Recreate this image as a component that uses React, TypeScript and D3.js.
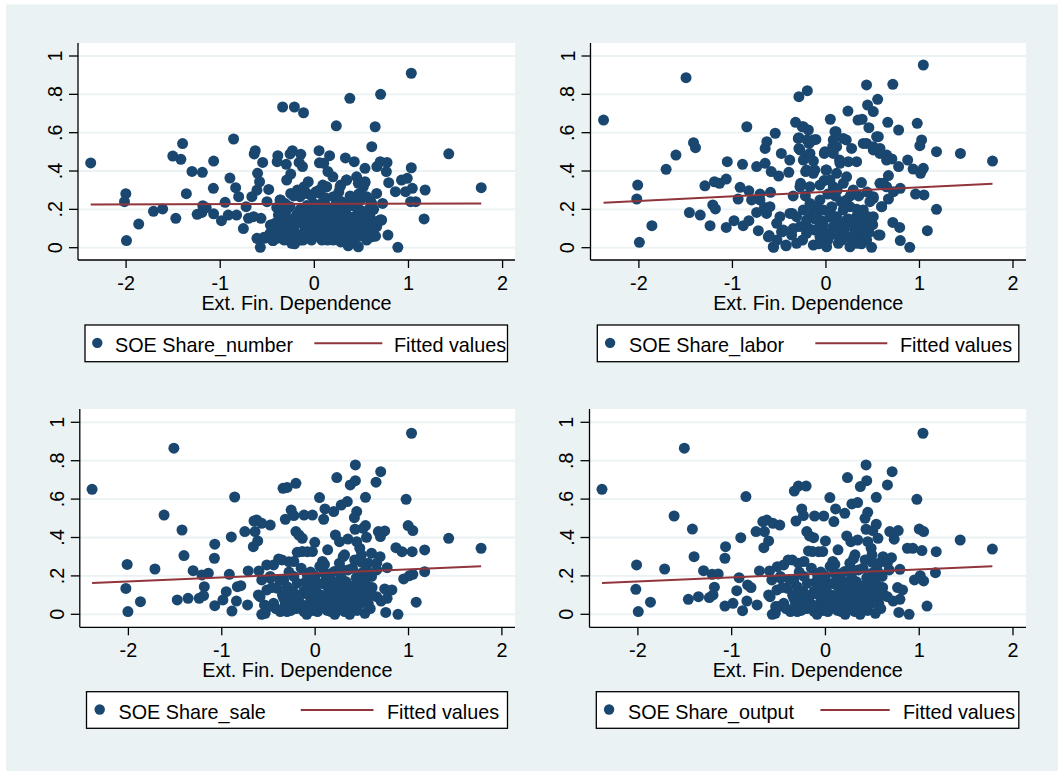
import React from 'react';
import * as d3 from 'd3';

// ---------- data ----------
const X_TICKS = [-2, -1, 0, 1, 2];
const X_TICK_LABELS = ['-2', '-1', '0', '1', '2'];
const Y_TICKS = [0, 0.2, 0.4, 0.6, 0.8, 1];
const Y_TICK_LABELS = ['0', '.2', '.4', '.6', '.8', '1'];
const X_TITLE = 'Ext. Fin. Dependence';
const SERIES_NAMES = ['SOE Share_number', 'SOE Share_labor', 'SOE Share_sale', 'SOE Share_output'];
const FIT_LABEL = 'Fitted values';
// fitted values at the smallest and largest x of each panel
const FIT_LEFT = [0.226, 0.235, 0.163, 0.163];
const FIT_RIGHT = [0.231, 0.334, 0.25, 0.25];

const SHARE_NUMBER: [number, number][] = [
  [-2.376,0.442],[-2.003,0.282],[-2.017,0.240],[-1.996,0.037],[-1.866,0.123],[-1.709,0.190],[-1.612,0.202],[-1.504,0.478],[-1.418,0.461],[-1.400,0.543],
  [-1.472,0.153],[-1.360,0.282],[-1.300,0.398],[-1.190,0.393],[-1.245,0.174],[-1.195,0.184],[-1.185,0.219],[-1.149,0.209],[-1.070,0.452],[-1.073,0.310],
  [-1.070,0.177],[-0.987,0.141],[-0.948,0.237],[-0.897,0.363],[-0.858,0.567],[-0.836,0.313],[-0.804,0.266],[-0.915,0.170],[-0.826,0.170],[-0.754,0.100],
  [-0.725,0.214],[-0.664,0.266],[-0.639,0.489],[-0.628,0.506],[-0.549,0.445],[-0.603,0.388],[-0.582,0.344],[-0.610,0.300],[-0.485,0.304],[-0.503,0.240],
  [-0.610,0.049],[-0.531,0.049],[-0.574,0.002],[-0.567,0.153],[-0.646,0.162],[-0.700,0.153],[-0.467,0.118],[-0.438,0.037],[-0.388,0.480],[-0.395,0.449],
  [-0.337,0.734],[-0.212,0.734],[-0.115,0.704],[-0.233,0.506],[-0.258,0.489],[-0.144,0.487],[-0.162,0.445],[-0.298,0.435],[-0.251,0.384],[-0.294,0.353],
  [-0.126,0.423],[-0.359,0.249],[-0.251,0.283],[-0.179,0.301],[-0.108,0.318],[-0.065,0.344],[0.018,0.292],[0.050,0.506],[0.054,0.443],[0.100,0.440],
  [0.162,0.480],[0.233,0.636],[0.144,0.397],[0.197,0.370],[0.090,0.327],[0.377,0.779],[0.330,0.468],[0.424,0.449],[0.280,0.327],[0.449,0.370],
  [0.538,0.414],[0.341,0.353],[0.538,0.339],[0.610,0.527],[0.646,0.631],[0.704,0.800],[0.664,0.423],[0.700,0.449],[0.772,0.445],[0.765,0.397],
  [0.790,0.339],[0.725,0.231],[0.710,0.144],[0.653,0.136],[0.610,0.061],[0.556,0.066],[0.782,0.066],[0.887,0.002],[0.861,0.292],[0.926,0.353],
  [0.987,0.362],[1.030,0.417],[1.030,0.910],[1.041,0.310],[0.969,0.292],[1.023,0.240],[1.077,0.240],[1.177,0.301],[1.166,0.150],[1.428,0.490],
  [1.773,0.313],
  [-0.535,0.054],[-0.442,0.037],[-0.453,0.118],[-0.382,0.170],[-0.365,0.249],[-0.294,0.110],[-0.241,0.023],[-0.188,0.162],[-0.152,0.040],[-0.099,0.092],
  [-0.046,0.049],[-0.064,0.188],[-0.011,0.144],[0.025,0.110],[0.078,0.231],[0.131,0.057],[0.166,0.144],[0.237,0.179],[0.290,0.092],[0.343,0.040],
  [0.379,0.110],[0.432,0.162],[0.467,0.005],[0.520,0.075],[0.591,0.144],[0.609,0.057],[0.662,0.110],[0.697,0.144],[-0.418,0.127],[-0.258,0.214],
  [-0.152,0.266],[-0.081,0.283],[-0.011,0.231],[0.060,0.283],[0.131,0.318],[0.202,0.266],[0.273,0.318],[0.343,0.231],[0.414,0.249],[0.485,0.197],
  [0.556,0.266],[0.609,0.231],[0.326,0.162],[0.219,0.092],[0.078,0.162],[-0.329,0.075],[-0.471,0.075],[0.520,0.318],[0.467,0.336],[0.343,0.353],
  [0.538,0.344],[0.715,0.144],[0.662,0.283],[0.450,0.092],[0.627,0.092],[0.556,0.040],
  [-0.35,0.14],[-0.30,0.19],[-0.25,0.08],[-0.20,0.12],[-0.15,0.20],[-0.10,0.16],[-0.05,0.10],[0.00,0.06],[0.05,0.13],[0.10,0.19],
  [0.15,0.10],[0.20,0.04],[0.25,0.13],[0.30,0.20],[0.35,0.16],[0.40,0.07],[0.45,0.21],[0.50,0.12],[0.55,0.18],[0.60,0.24],
  [-0.32,0.04],[-0.12,0.04],[0.08,0.04],[0.28,0.03],[0.42,0.03],[-0.22,0.27],[0.02,0.20],[0.22,0.22],[0.38,0.27],[0.12,0.26],
  [-0.40,0.21],[0.18,0.07],[0.32,0.12],[-0.08,0.22],[0.48,0.06],[-0.28,0.15],[0.05,0.30],[0.26,0.29],[-0.18,0.07],[0.58,0.20],
  [0.15,0.16],[0.35,0.06],[-0.03,0.27],[0.44,0.12],[0.65,0.06],
  [-0.42,0.09],[-0.38,0.05],[-0.33,0.12],[-0.27,0.05],[-0.23,0.11],[-0.19,0.17],[-0.14,0.13],[-0.09,0.06],[-0.06,0.13],[-0.01,0.09],
  [0.03,0.16],[0.07,0.08],[0.11,0.13],[0.14,0.04],[0.17,0.20],[0.21,0.15],[0.24,0.08],[0.27,0.17],[0.31,0.05],[0.33,0.19],
  [0.37,0.12],[0.40,0.22],[0.43,0.09],[0.46,0.15],[0.49,0.25],[0.52,0.16],[0.56,0.10],[0.59,0.17],[0.63,0.20],[0.47,0.28],
  [0.29,0.24],[0.12,0.22],[-0.03,0.04],[-0.21,0.02],[0.36,0.01],[0.24,0.26],[-0.31,0.23],[0.09,0.10],[0.19,0.12],[0.41,0.16],
];

const SHARE_LABOR: [number, number][] = [
  [-2.378,0.666],[-2.013,0.327],[-2.023,0.254],[-1.995,0.028],[-1.861,0.115],[-1.709,0.409],[-1.604,0.483],[-1.496,0.887],[-1.460,0.183],[-1.416,0.548],
  [-1.395,0.522],[-1.344,0.170],[-1.294,0.323],[-1.239,0.115],[-1.210,0.223],[-1.182,0.202],[-1.192,0.344],[-1.138,0.336],[-1.066,0.358],[-1.055,0.449],
  [-1.066,0.106],[-0.983,0.141],[-0.939,0.254],[-0.918,0.315],[-0.892,0.435],[-0.885,0.115],[-0.846,0.631],[-0.824,0.297],[-0.824,0.141],[-0.795,0.249],
  [-0.741,0.423],[-0.741,0.184],[-0.723,0.089],[-0.705,0.280],[-0.650,0.440],[-0.650,0.518],[-0.632,0.553],[-0.658,0.210],[-0.607,0.063],[-0.585,0.397],
  [-0.593,0.289],[-0.560,0.002],[-0.542,0.597],[-0.524,0.040],[-0.506,0.374],[-0.477,0.492],[-0.470,0.083],[-0.397,0.393],[-0.387,0.457],[-0.361,0.179],
  [-0.426,0.010],[-0.325,0.654],[-0.289,0.788],[-0.199,0.819],[-0.289,0.574],[-0.253,0.631],[-0.188,0.614],[-0.289,0.518],[-0.271,0.336],[-0.217,0.475],
  [-0.181,0.544],[-0.108,0.565],[-0.134,0.452],[-0.217,0.397],[-0.119,0.405],[-0.018,0.492],[0.047,0.670],[0.000,0.405],[0.108,0.605],[0.072,0.527],
  [0.145,0.457],[0.235,0.713],[0.217,0.562],[0.343,0.666],[0.387,0.670],[0.434,0.849],[0.445,0.744],[0.506,0.710],[0.553,0.774],[0.459,0.626],
  [0.560,0.579],[0.434,0.544],[0.506,0.510],[0.578,0.518],[0.650,0.483],[0.661,0.654],[0.715,0.852],[0.777,0.614],[0.705,0.463],[0.777,0.423],
  [0.668,0.376],[0.614,0.336],[0.795,0.310],[0.723,0.292],[0.668,0.254],[0.596,0.214],[0.506,0.257],[0.715,0.132],[0.788,0.106],[0.795,0.037],
  [0.896,0.002],[0.874,0.457],[0.932,0.410],[0.976,0.649],[1.012,0.388],[1.041,0.953],[1.023,0.562],[1.004,0.532],[1.041,0.414],[0.958,0.280],
  [1.048,0.275],[1.084,0.089],[1.182,0.501],[1.182,0.200],[1.438,0.492],[1.781,0.452],[0.578,0.066],[0.488,0.002],
  [-0.563,0.005],[-0.428,0.014],[-0.314,0.023],[-0.135,0.014],[0.132,0.023],[0.328,0.023],[-0.616,0.057],[-0.474,0.083],[-0.367,0.066],[-0.278,0.110],
  [-0.207,0.144],[-0.118,0.092],[-0.064,0.057],[0.007,0.075],[0.078,0.110],[0.150,0.075],[0.221,0.057],[0.292,0.110],[0.364,0.075],[0.435,0.110],
  [0.506,0.162],[0.560,0.066],[-0.314,0.162],[-0.242,0.197],[-0.171,0.231],[-0.100,0.162],[-0.029,0.197],[0.061,0.214],[0.114,0.162],[0.185,0.197],
  [0.257,0.214],[0.328,0.162],[0.399,0.197],[0.453,0.162],[-0.385,0.179],[-0.456,0.092],[-0.635,0.179],[-0.599,0.214],[-0.706,0.249],[-0.278,0.318],
  [-0.171,0.318],[-0.064,0.327],[0.078,0.318],[0.185,0.336],[0.292,0.301],[0.114,0.388],[0.221,0.370],[0.043,0.353],[-0.207,0.405],[-0.135,0.388],
  [0.007,0.405],[0.150,0.440],[0.239,0.449],[0.328,0.449],[-0.242,0.457],[-0.171,0.492],[-0.011,0.501],[0.078,0.492],[0.114,0.527],[-0.278,0.510],
  [-0.296,0.570],[-0.203,0.562],[-0.135,0.562],[0.078,0.562],[0.185,0.570],[0.274,0.518],[0.399,0.544],[0.506,0.527],[0.577,0.492],[0.648,0.457],
  [0.542,0.579],[-0.242,0.631],[0.096,0.605],[0.577,0.336],[0.648,0.318],[0.506,0.266],[0.595,0.214],[0.221,0.249],[-0.064,0.249],[-0.492,0.162],
  [-0.527,0.127],[-0.207,0.075],[0.221,0.144],[0.364,0.040],[0.007,0.005],[0.257,0.005],[-0.064,0.110],[0.435,0.040],
  [-0.05,0.14],[0.04,0.16],[0.18,0.12],[0.30,0.07],[0.40,0.13],[-0.16,0.18],[0.10,0.27],[0.35,0.27],[-0.35,0.27],[0.47,0.24],
  [-0.25,0.04],[-0.18,0.10],[-0.12,0.15],[-0.08,0.02],[-0.03,0.12],[0.02,0.04],[0.05,0.18],[0.09,0.07],[0.13,0.13],[0.17,0.04],
  [0.20,0.10],[0.24,0.15],[0.27,0.05],[0.31,0.13],[0.35,0.09],[0.38,0.02],[0.42,0.15],[0.46,0.08],[0.50,0.12],[0.33,0.20],
  [0.16,0.24],[0.02,0.28],[-0.10,0.21],[-0.22,0.27],[0.26,0.27],[0.44,0.29],[-0.35,0.10],[0.12,0.30],[0.38,0.34],[-0.02,0.35],
];

const SHARE_SALE: [number, number][] = [
  [-2.389,0.651],[-2.013,0.260],[-2.027,0.135],[-2.005,0.014],[-1.871,0.066],[-1.716,0.236],[-1.618,0.517],[-1.513,0.865],[-1.477,0.075],[-1.426,0.439],
  [-1.405,0.306],[-1.361,0.083],[-1.307,0.227],[-1.242,0.083],[-1.213,0.205],[-1.187,0.144],[-1.195,0.097],[-1.144,0.214],[-1.075,0.365],[-1.079,0.292],
  [-1.075,0.045],[-0.988,0.075],[-0.952,0.118],[-0.919,0.208],[-0.898,0.403],[-0.891,0.017],[-0.862,0.611],[-0.833,0.144],[-0.796,0.149],[-0.843,0.069],
  [-0.753,0.431],[-0.717,0.226],[-0.724,0.049],[-0.662,0.352],[-0.655,0.486],[-0.644,0.431],[-0.626,0.491],[-0.615,0.382],[-0.608,0.101],[-0.572,0.474],
  [-0.481,0.465],[-0.602,0.226],[-0.572,0.000],[-0.518,0.257],[-0.481,0.188],[-0.543,0.049],[-0.391,0.288],[-0.344,0.656],[-0.300,0.661],[-0.206,0.682],
  [-0.319,0.495],[-0.257,0.543],[-0.228,0.514],[-0.282,0.274],[-0.206,0.431],[-0.174,0.413],[-0.138,0.396],[-0.192,0.323],[-0.119,0.517],[-0.029,0.517],
  [-0.083,0.326],[-0.004,0.375],[0.047,0.608],[0.105,0.549],[0.091,0.495],[0.199,0.535],[0.232,0.712],[0.217,0.413],[0.261,0.378],[0.279,0.569],
  [0.344,0.587],[0.351,0.392],[0.376,0.674],[0.431,0.696],[0.431,0.778],[0.445,0.535],[0.420,0.503],[0.427,0.443],[0.445,0.378],[0.478,0.344],
  [0.539,0.609],[0.539,0.462],[0.550,0.401],[0.514,0.448],[0.604,0.318],[0.652,0.688],[0.702,0.743],[0.677,0.431],[0.699,0.405],[0.745,0.434],
  [0.695,0.300],[0.659,0.231],[0.771,0.243],[0.604,0.101],[0.706,0.069],[0.771,0.083],[0.745,0.132],[0.756,0.010],[0.887,0.000],[0.865,0.347],
  [0.930,0.326],[0.974,0.599],[0.996,0.462],[1.046,0.436],[1.032,0.943],[1.039,0.326],[0.948,0.184],[1.010,0.201],[1.046,0.208],[1.082,0.063],
  [1.173,0.335],[1.173,0.222],[1.430,0.396],[1.777,0.344],
  [-0.535,0.005],[-0.373,0.014],[-0.301,0.014],[-0.119,0.014],[0.025,0.014],[0.170,0.014],[0.315,0.014],[0.532,0.005],[-0.445,0.057],[-0.337,0.083],
  [-0.228,0.057],[-0.156,0.101],[-0.047,0.066],[0.062,0.101],[0.134,0.066],[0.242,0.101],[0.351,0.066],[0.459,0.101],[0.568,0.057],[-0.409,0.136],
  [-0.301,0.144],[-0.192,0.162],[-0.084,0.144],[0.025,0.162],[0.134,0.144],[0.242,0.162],[0.351,0.144],[0.459,0.162],[0.568,0.144],[0.604,0.197],
  [-0.228,0.197],[-0.084,0.205],[0.098,0.214],[0.206,0.223],[0.351,0.231],[0.496,0.214],[0.659,0.266],[-0.228,0.275],[-0.138,0.327],[-0.029,0.327],
  [0.079,0.275],[0.134,0.336],[0.260,0.266],[0.315,0.310],[0.423,0.283],[0.496,0.310],[0.568,0.266],[-0.445,0.257],[-0.355,0.283],[-0.517,0.127],
  [-0.590,0.092],[-0.572,0.179],[-0.481,0.197],[-0.337,0.179],[-0.011,0.127],[0.206,0.127],[0.423,0.127],[-0.264,0.092],[0.279,0.040],[0.098,0.040],
  [-0.119,0.040],[0.423,0.040],[0.659,0.092],[0.822,0.127],
  [-0.20,0.03],[-0.05,0.03],[0.06,0.05],[0.20,0.06],[0.38,0.03],[0.48,0.07],[-0.30,0.11],[-0.12,0.12],[0.00,0.09],[0.18,0.10],
  [0.30,0.12],[0.40,0.09],[0.52,0.12],[-0.02,0.18],[0.12,0.18],[0.28,0.19],[0.44,0.19],[0.55,0.23],[-0.15,0.24],[0.05,0.25],
  [-0.42,0.03],[-0.35,0.10],[-0.32,0.05],[-0.26,0.02],[-0.24,0.12],[-0.18,0.08],[-0.14,0.05],[-0.10,0.17],[-0.07,0.10],[-0.02,0.02],
  [0.01,0.12],[0.04,0.06],[0.08,0.16],[0.10,0.08],[0.13,0.02],[0.16,0.12],[0.19,0.17],[0.22,0.05],[0.25,0.13],[0.28,0.08],
  [0.31,0.02],[0.33,0.17],[0.36,0.10],[0.39,0.05],[0.42,0.15],[0.45,0.02],[0.47,0.12],[0.50,0.06],[0.53,0.17],[0.56,0.10],
  [0.59,0.03],[0.61,0.14],[-0.38,0.18],[-0.28,0.22],[-0.05,0.22],[0.15,0.21],[0.27,0.24],[0.40,0.24],[0.50,0.27],[0.58,0.21],
  [-0.50,0.04],[-0.46,0.14],[0.00,0.20],[0.21,0.00],[0.37,0.00],[-0.09,0.00],[0.30,0.30],[0.10,0.26],
];

const SHARE_OUTPUT: [number, number][] = [
  [-2.383,0.651],[-2.014,0.257],[-2.022,0.130],[-1.996,0.014],[-1.866,0.063],[-1.715,0.236],[-1.614,0.512],[-1.505,0.865],[-1.462,0.078],[-1.419,0.444],
  [-1.401,0.300],[-1.354,0.092],[-1.300,0.227],[-1.238,0.087],[-1.209,0.208],[-1.184,0.141],[-1.199,0.101],[-1.144,0.210],[-1.065,0.352],[-1.072,0.292],
  [-1.072,0.043],[-0.986,0.057],[-0.946,0.123],[-0.921,0.191],[-0.903,0.399],[-0.884,0.019],[-0.848,0.613],[-0.830,0.153],[-0.794,0.139],[-0.838,0.069],
  [-0.740,0.431],[-0.704,0.226],[-0.729,0.049],[-0.657,0.347],[-0.668,0.483],[-0.650,0.431],[-0.625,0.491],[-0.606,0.382],[-0.606,0.101],[-0.560,0.474],
  [-0.487,0.465],[-0.596,0.226],[-0.567,0.000],[-0.513,0.248],[-0.477,0.188],[-0.531,0.040],[-0.397,0.283],[-0.332,0.642],[-0.289,0.668],[-0.206,0.668],
  [-0.314,0.486],[-0.253,0.549],[-0.235,0.514],[-0.289,0.266],[-0.199,0.431],[-0.170,0.408],[-0.126,0.399],[-0.181,0.330],[-0.116,0.512],[-0.018,0.512],
  [-0.072,0.326],[0.000,0.382],[0.047,0.608],[0.108,0.549],[0.090,0.483],[0.206,0.526],[0.235,0.712],[0.227,0.408],[0.271,0.378],[0.282,0.575],
  [0.343,0.582],[0.343,0.387],[0.372,0.665],[0.440,0.696],[0.433,0.778],[0.451,0.531],[0.422,0.500],[0.433,0.443],[0.451,0.378],[0.487,0.344],
  [0.542,0.609],[0.542,0.469],[0.560,0.396],[0.505,0.436],[0.614,0.300],[0.661,0.674],[0.711,0.743],[0.686,0.431],[0.733,0.391],[0.776,0.436],
  [0.704,0.295],[0.679,0.231],[0.794,0.234],[0.625,0.101],[0.722,0.069],[0.794,0.078],[0.769,0.139],[0.783,0.010],[0.892,0.000],[0.874,0.344],
  [0.931,0.344],[0.975,0.599],[1.000,0.444],[1.047,0.431],[1.040,0.943],[1.029,0.332],[0.949,0.179],[1.011,0.201],[1.047,0.174],[1.083,0.043],
  [1.181,0.326],[1.173,0.217],[1.437,0.387],[1.780,0.340],
  [-0.535,0.005],[-0.373,0.014],[-0.301,0.014],[-0.119,0.014],[0.025,0.014],[0.170,0.014],[0.315,0.014],[0.532,0.005],[-0.445,0.057],[-0.337,0.083],
  [-0.228,0.057],[-0.156,0.101],[-0.047,0.066],[0.062,0.101],[0.134,0.066],[0.242,0.101],[0.351,0.066],[0.459,0.101],[0.568,0.057],[-0.409,0.136],
  [-0.301,0.144],[-0.192,0.162],[-0.084,0.144],[0.025,0.162],[0.134,0.144],[0.242,0.162],[0.351,0.144],[0.459,0.162],[0.568,0.144],[0.604,0.197],
  [-0.228,0.197],[-0.084,0.205],[0.098,0.214],[0.206,0.223],[0.351,0.231],[0.496,0.214],[0.659,0.266],[-0.228,0.275],[-0.138,0.327],[-0.029,0.327],
  [0.079,0.275],[0.134,0.336],[0.260,0.266],[0.315,0.310],[0.423,0.283],[0.496,0.310],[0.568,0.266],[-0.445,0.257],[-0.355,0.283],[-0.517,0.127],
  [-0.590,0.092],[-0.572,0.179],[-0.481,0.197],[-0.337,0.179],[-0.011,0.127],[0.206,0.127],[0.423,0.127],[-0.264,0.092],[0.279,0.040],[0.098,0.040],
  [-0.119,0.040],[0.423,0.040],[0.659,0.092],[0.822,0.127],
  [-0.20,0.03],[-0.05,0.03],[0.06,0.05],[0.20,0.06],[0.38,0.03],[0.48,0.07],[-0.30,0.11],[-0.12,0.12],[0.00,0.09],[0.18,0.10],
  [0.30,0.12],[0.40,0.09],[0.52,0.12],[-0.02,0.18],[0.12,0.18],[0.28,0.19],[0.44,0.19],[0.55,0.23],[-0.15,0.24],[0.05,0.25],
  [-0.42,0.03],[-0.35,0.10],[-0.32,0.05],[-0.26,0.02],[-0.24,0.12],[-0.18,0.08],[-0.14,0.05],[-0.10,0.17],[-0.07,0.10],[-0.02,0.02],
  [0.01,0.12],[0.04,0.06],[0.08,0.16],[0.10,0.08],[0.13,0.02],[0.16,0.12],[0.19,0.17],[0.22,0.05],[0.25,0.13],[0.28,0.08],
  [0.31,0.02],[0.33,0.17],[0.36,0.10],[0.39,0.05],[0.42,0.15],[0.45,0.02],[0.47,0.12],[0.50,0.06],[0.53,0.17],[0.56,0.10],
  [0.59,0.03],[0.61,0.14],[-0.38,0.18],[-0.28,0.22],[-0.05,0.22],[0.15,0.21],[0.27,0.24],[0.40,0.24],[0.50,0.27],[0.58,0.21],
  [-0.50,0.04],[-0.46,0.14],[0.00,0.20],[0.21,0.00],[0.37,0.00],[-0.09,0.00],[0.30,0.29],[0.10,0.26],
];

const SERIES = [SHARE_NUMBER, SHARE_LABOR, SHARE_SALE, SHARE_OUTPUT];

// ---------- layout & style ----------
const W = 1058;
const H = 771;
const BG = '#eaf2f3';
const MARKER = '#1a476f';
const FIT_COLOR = '#90353b';
const FONT = '"Liberation Sans", Arial, Helvetica, sans-serif';
const FS = 19.8;

type Layout = {
  plotL: number; plotR: number; plotT: number; axisY: number;
  x0: number; x1: number; y0: number; y1: number;
  lg: { l: number; r: number; t: number; b: number; marker: number; text: number; lineA: number; lineB: number; fit: number };
};

const LAYOUT: Layout[] = [
  { plotL: 78, plotR: 515, plotT: 43, axisY: 260, x0: 126.1, x1: 502.6, y0: 247.7, y1: 56,
    lg: { l: 85, r: 507.5, t: 325, b: 361.7, marker: 97.3, text: 115, lineA: 314.3, lineB: 382.3, fit: 394 } },
  { plotL: 590.5, plotR: 1026, plotT: 43, axisY: 260, x0: 638.9, x1: 1013, y0: 247.7, y1: 56,
    lg: { l: 597.3, r: 1018.8, t: 325, b: 361.7, marker: 610.1, text: 629, lineA: 815.3, lineB: 887.3, fit: 900 } },
  { plotL: 79.8, plotR: 515, plotT: 409, axisY: 627.3, x0: 128.4, x1: 501.9, y0: 614.3, y1: 422.3,
    lg: { l: 86.5, r: 507.5, t: 691.7, b: 728.3, marker: 99.7, text: 118.5, lineA: 300.8, lineB: 373.5, fit: 387 } },
  { plotL: 589.5, plotR: 1026, plotT: 409, axisY: 627.3, x0: 637.9, x1: 1013, y0: 614.3, y1: 422.3,
    lg: { l: 596.3, r: 1018.8, t: 691.7, b: 728.3, marker: 609.1, text: 628, lineA: 820.4, lineB: 889.7, fit: 903 } },
];

function Panel({ idx }: { idx: number }) {
  const L = LAYOUT[idx];
  const data = SERIES[idx];
  const x = d3.scaleLinear().domain([X_TICKS[0], X_TICKS[X_TICKS.length - 1]]).range([L.x0, L.x1]);
  const y = d3.scaleLinear().domain([0, 1]).range([L.y0, L.y1]);
  const ext = d3.extent(data, (d) => d[0]) as [number, number];
  const fitPath = d3.line()([
    [x(ext[0]), y(FIT_LEFT[idx])],
    [x(ext[1]), y(FIT_RIGHT[idx])],
  ]) as string;
  const lg = L.lg;
  const lgMid = (lg.t + lg.b) / 2;
  const titleX = (L.plotL + L.plotR) / 2;
  return (
    <g>
      <rect x={L.plotL} y={L.plotT} width={L.plotR - L.plotL} height={L.axisY - L.plotT} fill="#ffffff" />
      {Y_TICKS.map((t) => (
        <line key={'g' + t} x1={L.plotL} x2={L.plotR} y1={y(t)} y2={y(t)} stroke={BG} strokeWidth={1.8} />
      ))}
      {data.map((d, i) => (
        <circle key={i} cx={x(d[0])} cy={y(d[1])} r={5.5} fill={MARKER} />
      ))}
      <path d={fitPath} stroke={FIT_COLOR} strokeWidth={2} fill="none" />
      <line x1={L.plotL} x2={L.plotL} y1={L.plotT} y2={L.axisY} stroke="#000" strokeWidth={1.3} />
      <line x1={L.plotL} x2={L.plotR} y1={L.axisY} y2={L.axisY} stroke="#000" strokeWidth={1.3} />
      {Y_TICKS.map((t, i) => (
        <g key={'yt' + t}>
          <line x1={L.plotL - 9} x2={L.plotL} y1={y(t)} y2={y(t)} stroke="#000" strokeWidth={1.3} />
          <text
            x={L.plotL - 16}
            y={y(t)}
            transform={`rotate(-90, ${L.plotL - 16}, ${y(t)})`}
            textAnchor="middle"
            fontFamily={FONT}
            fontSize={FS}
            fill="#000"
          >
            {Y_TICK_LABELS[i]}
          </text>
        </g>
      ))}
      {X_TICKS.map((t, i) => (
        <g key={'xt' + t}>
          <line x1={x(t)} x2={x(t)} y1={L.axisY} y2={L.axisY + 8} stroke="#000" strokeWidth={1.3} />
          <text x={x(t)} y={L.axisY + 30} textAnchor="middle" fontFamily={FONT} fontSize={FS} fill="#000">
            {X_TICK_LABELS[i]}
          </text>
        </g>
      ))}
      <text x={titleX} y={L.axisY + 50} textAnchor="middle" fontFamily={FONT} fontSize={FS} fill="#000">
        {X_TITLE}
      </text>
      <rect x={lg.l} y={lg.t} width={lg.r - lg.l} height={lg.b - lg.t} fill="#ffffff" stroke="#000" strokeWidth={1.3} />
      <circle cx={lg.marker} cy={lgMid - 0.5} r={5.2} fill={MARKER} />
      <text x={lg.text} y={lgMid + 8.7} fontFamily={FONT} fontSize={FS} fill="#000">
        {SERIES_NAMES[idx]}
      </text>
      <line x1={lg.lineA} x2={lg.lineB} y1={lgMid} y2={lgMid} stroke={FIT_COLOR} strokeWidth={2} />
      <text x={lg.fit} y={lgMid + 8.7} fontFamily={FONT} fontSize={FS} fill="#000">
        {FIT_LABEL}
      </text>
    </g>
  );
}

export default function App() {
  return (
    <svg
      width={W}
      height={H}
      viewBox={`0 0 ${W} ${H}`}
      style={{ position: 'absolute', left: 0, top: 0, display: 'block' }}
    >
      <rect x={0} y={0} width={W} height={H} fill="#ffffff" />
      <rect x={6} y={4.5} width={W - 6} height={H - 4.5} fill={BG} />
      {LAYOUT.map((_, i) => (
        <Panel key={i} idx={i} />
      ))}
    </svg>
  );
}
